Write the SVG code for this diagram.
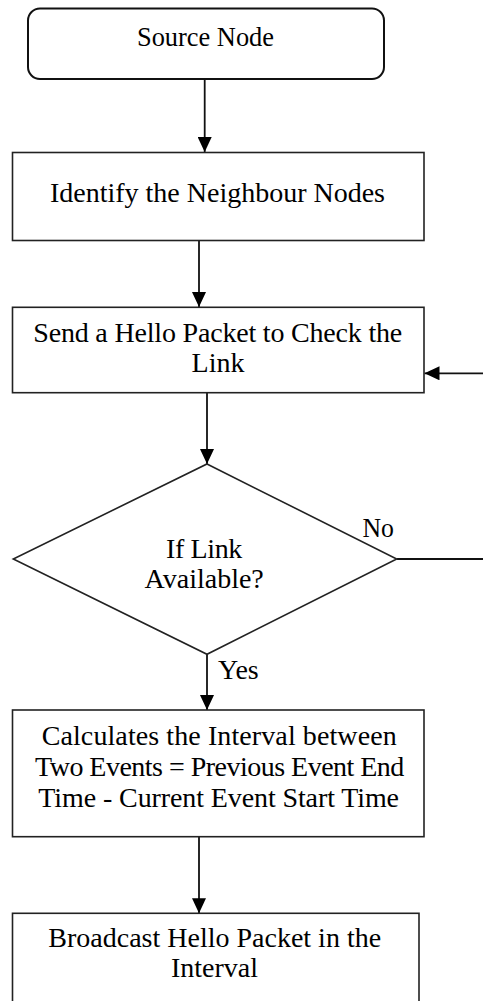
<svg xmlns="http://www.w3.org/2000/svg" width="483" height="1001" viewBox="0 0 483 1001">
<style>
.box{fill:#fff;stroke:#222;stroke-width:1.6}
text{font-family:'Liberation Serif','Times New Roman','DejaVu Serif',serif;font-size:28px;fill:#000}
.t{text-anchor:middle}
.c{fill:none;stroke:#111;stroke-width:1.8}
</style>
<defs>
<marker id="ah" markerUnits="userSpaceOnUse" markerWidth="16" markerHeight="14" refX="15" refY="7" orient="auto">
<path d="M0,0 L15,7 L0,14 z" fill="#000"/>
</marker>
</defs>
<rect width="483" height="1001" fill="#fff"/>
<g id="connectors">
<line class="c" x1="204.7" y1="79" x2="204.7" y2="152" marker-end="url(#ah)"/>
<line class="c" x1="199" y1="240.5" x2="199" y2="307" marker-end="url(#ah)"/>
<line class="c" x1="207" y1="392.7" x2="207" y2="464" marker-end="url(#ah)"/>
<path class="c" d="M396.7,559 L490,559 L490,373.3 L424.5,373.3" marker-end="url(#ah)"/>
<line class="c" x1="207" y1="654.3" x2="207" y2="710" marker-end="url(#ah)"/>
<line class="c" x1="199" y1="836.7" x2="199" y2="913.3" marker-end="url(#ah)"/>
<text x="362.5" y="536.7" textLength="31.5" lengthAdjust="spacingAndGlyphs">No</text>
<text x="218" y="679">Yes</text>
</g>
<g id="source">
<rect x="28" y="8.5" width="356" height="70.5" rx="12" ry="12" fill="#fff" stroke="#111" stroke-width="2"/>
<text class="t" x="205.5" y="46" textLength="137" lengthAdjust="spacingAndGlyphs">Source Node</text>
</g>
<g id="identify">
<rect class="box" x="12.5" y="152.5" width="411.5" height="88"/>
<text class="t" x="217.5" y="202.3" textLength="335">Identify the Neighbour Nodes</text>
</g>
<g id="hello">
<rect class="box" x="12.5" y="307.3" width="411.5" height="85.4"/>
<text class="t" x="217.8" y="341.7" textLength="369">Send a Hello Packet to Check the</text>
<text class="t" x="218" y="371.7">Link</text>
</g>
<g id="decision">
<polygon class="box" points="207,464 396.7,559 207,654.3 13.3,559"/>
<text class="t" x="204.2" y="558" textLength="76.3">If Link</text>
<text class="t" x="204.2" y="588">Available?</text>
</g>
<g id="calc">
<rect class="box" x="12.5" y="710" width="411.5" height="126.7"/>
<text class="t" x="219.2" y="745" textLength="355">Calculates the Interval between</text>
<text class="t" x="219.7" y="776" textLength="369.3">Two Events = Previous Event End</text>
<text class="t" x="218.7" y="806.7" textLength="360.7">Time - Current Event Start Time</text>
</g>
<g id="broadcast">
<rect class="box" x="12.5" y="913.3" width="406.5" height="110"/>
<text class="t" x="214.7" y="946.7">Broadcast Hello Packet in the</text>
<text class="t" x="214.5" y="976.7">Interval</text>
</g>
</svg>
